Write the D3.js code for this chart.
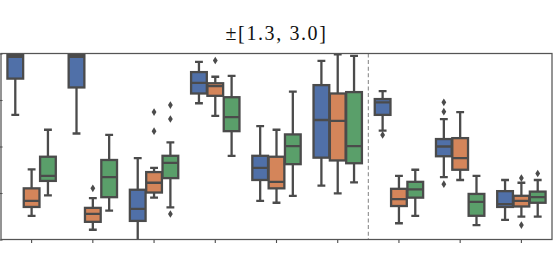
<!DOCTYPE html>
<html>
<head>
  <title>boxes</title>
  <script src="https://d3js.org/d3.v7.min.js" charset="utf-8"></script>
  <style>
    body { margin: 0; background: white; }
  </style>
</head>
<body>
<div class="page"></div>
<script>
// --- data (y units are arbitrary, 0..4 spans the axes) ---
var categories = ["c1", "c2", "c3", "c4", "c5", "c6", "c7", "c8", "c9"];
var hues = ["blue", "orange", "green"];
var title = "\u00b1[1.3, 3.0]";
var yTicks = [0, 1, 2, 3, 4];

// [whisker low, q1, median, q3, whisker high] per category
var blueStats = [
  [2.68, 3.46, 3.93, 3.97, 4.5],
  [2.28, 3.27, 3.93, 3.97, 4.5],
  [-0.05, 0.40, 0.66, 1.07, 1.75],
  [2.93, 3.14, 3.37, 3.60, 3.82],
  [0.83, 1.28, 1.54, 1.80, 2.44],
  [1.16, 1.76, 2.57, 3.32, 3.84],
  [2.34, 2.68, 2.95, 3.02, 3.19],
  [1.34, 1.79, 2.00, 2.16, 2.59],
  [0.42, 0.70, 0.76, 1.04, 1.28]
];
var orangeStats = [
  [0.51, 0.70, 0.83, 1.10, 1.51],
  [0.21, 0.38, 0.55, 0.68, 0.89],
  [0.90, 1.01, 1.22, 1.45, 1.54],
  [2.66, 3.09, 3.30, 3.36, 3.50],
  [0.79, 1.10, 1.24, 1.78, 2.36],
  [0.99, 1.70, 2.55, 3.14, 3.98],
  [0.35, 0.72, 0.87, 1.09, 1.37],
  [1.28, 1.50, 1.75, 2.18, 2.74],
  [0.49, 0.71, 0.83, 0.94, 1.22]
];
var greenStats = [
  [0.95, 1.26, 1.37, 1.78, 2.36],
  [0.62, 0.91, 1.34, 1.71, 2.25],
  [0.69, 1.32, 1.65, 1.80, 2.09],
  [1.80, 2.33, 2.63, 3.06, 3.52],
  [0.94, 1.62, 2.01, 2.26, 3.18],
  [1.23, 1.64, 2.01, 3.17, 3.95],
  [0.51, 0.90, 1.08, 1.24, 1.50],
  [0.31, 0.51, 0.81, 0.98, 1.37],
  [0.49, 0.79, 0.91, 1.03, 1.28]
];

// outliers: [category index, value]
var blueFliers = [[6, 2.25], [7, 2.95], [7, 2.75], [7, 1.19]];
var orangeFliers = [[1, 1.10], [2, 2.74], [2, 2.33], [3, 3.85], [8, 1.32], [8, 0.31]];
var greenFliers = [[2, 2.89], [2, 2.59], [2, 0.55], [8, 1.42]];

var dividerAfter = 5; // dashed line after this category

// --- drawing ---
var width = 553;
var height = 255;
var pLeft = 1, pRight = 552, pTop = 53.5, pBottom = 239.5;
var gray = "#4b4b4b";

var svg = d3.select( ".page" )
    .append( "svg" )
    .attr( "width", width )
    .attr( "height", height )
    .style( "display", "block" );

var x = d3.scaleBand()
    .domain( categories )
    .range( [pLeft, pRight] )
    .paddingInner( 0 );

var hueX = d3.scaleBand()
    .domain( hues )
    .range( [-x.bandwidth()*0.4, x.bandwidth()*0.4] );

var y = d3.scaleLinear()
    .domain( [0, 4] )
    .range( [pBottom, pTop] );

var color = d3.scaleOrdinal()
    .domain( hues )
    .range( ["#5070a8", "#d4855a", "#5a9f6a"] );

svg.append("defs").append("clipPath")
    .attr("id", "plotclip")
    .append("rect")
    .attr("x", pLeft).attr("y", pTop)
    .attr("width", pRight - pLeft).attr("height", pBottom - pTop);

var plot = svg.append("g").attr("clip-path", "url(#plotclip)");

// divider
var xDiv = x(categories[dividerAfter]) + x.bandwidth();
plot.append("line")
    .attr("x1", xDiv).attr("x2", xDiv)
    .attr("y1", pTop).attr("y2", pBottom)
    .attr("stroke", "#8c8c8c")
    .attr("stroke-width", 1.1)
    .attr("stroke-dasharray", "4,2.6");

var boxW = hueX.bandwidth() - 0.6;
var capW = boxW * 0.5;

function drawHue(hue, stats, fliers) {
  var g = plot.append("g").attr("class", "hue-" + hue);
  var cx = function(i) { return x(categories[i]) + x.bandwidth()/2 + hueX(hue) + hueX.bandwidth()/2; };

  var box = g.selectAll("g.box")
      .data(stats)
      .enter()
      .append("g")
      .attr("class", "box");

  // whiskers
  box.append("line")
      .attr("x1", function(d, i) { return cx(i); })
      .attr("x2", function(d, i) { return cx(i); })
      .attr("y1", function(d) { return y(d[0]); })
      .attr("y2", function(d) { return y(d[1]); })
      .attr("stroke", gray).attr("stroke-width", 2.3);
  box.append("line")
      .attr("x1", function(d, i) { return cx(i); })
      .attr("x2", function(d, i) { return cx(i); })
      .attr("y1", function(d) { return y(d[3]); })
      .attr("y2", function(d) { return y(d[4]); })
      .attr("stroke", gray).attr("stroke-width", 2.3);
  // caps
  [0, 4].forEach(function(k) {
    box.append("line")
        .attr("x1", function(d, i) { return cx(i) - capW/2; })
        .attr("x2", function(d, i) { return cx(i) + capW/2; })
        .attr("y1", function(d) { return y(d[k]); })
        .attr("y2", function(d) { return y(d[k]); })
        .attr("stroke", gray).attr("stroke-width", 2.3);
  });
  // box
  box.append("rect")
      .attr("x", function(d, i) { return cx(i) - boxW/2; })
      .attr("y", function(d) { return y(d[3]); })
      .attr("width", boxW)
      .attr("height", function(d) { return y(d[1]) - y(d[3]); })
      .attr("fill", color(hue))
      .attr("stroke", gray)
      .attr("stroke-width", 2.3);
  // median
  box.append("line")
      .attr("x1", function(d, i) { return cx(i) - boxW/2; })
      .attr("x2", function(d, i) { return cx(i) + boxW/2; })
      .attr("y1", function(d) { return y(d[2]); })
      .attr("y2", function(d) { return y(d[2]); })
      .attr("stroke", gray).attr("stroke-width", 2.3);

  // fliers (thin diamonds)
  g.selectAll("path.flier")
      .data(fliers)
      .enter()
      .append("path")
      .attr("class", "flier")
      .attr("transform", function(d) { return "translate(" + cx(d[0]) + "," + y(d[1]) + ")"; })
      .attr("d", "M0,-3.8L2.4,0L0,3.8L-2.4,0Z")
      .attr("fill", gray);
}

drawHue("blue", blueStats, blueFliers);
drawHue("orange", orangeStats, orangeFliers);
drawHue("green", greenStats, greenFliers);

// axes
var xAxis = d3.axisBottom(x).tickSize(3.5).tickFormat("");
svg.append("g")
    .attr("transform", "translate(0," + pBottom + ")")
    .call(xAxis)
    .call(function(g) { g.select(".domain").remove(); })
    .selectAll("line").attr("stroke", gray).attr("stroke-width", 1.1);

var yAxis = d3.axisLeft(y).tickValues(yTicks).tickSize(3.5).tickFormat("");
svg.append("g")
    .attr("transform", "translate(" + (pLeft + 1.5) + ",0)")
    .call(yAxis)
    .call(function(g) { g.select(".domain").remove(); })
    .selectAll("line").attr("stroke", gray).attr("stroke-width", 1.1);

// frame
svg.append("rect")
    .attr("x", pLeft).attr("y", pTop)
    .attr("width", pRight - pLeft).attr("height", pBottom - pTop)
    .attr("fill", "none")
    .attr("stroke", "#555")
    .attr("stroke-width", 1.25);

svg.append("text")
    .attr("x", (pLeft + pRight)/2)
    .attr("y", 39.5)
    .attr("text-anchor", "middle")
    .style("font-family", "'Liberation Serif', 'DejaVu Serif', serif")
    .style("font-size", "20px")
    .style("letter-spacing", "1.6px")
    .style("fill", "#111")
    .text(title);
</script>
</body>
</html>
